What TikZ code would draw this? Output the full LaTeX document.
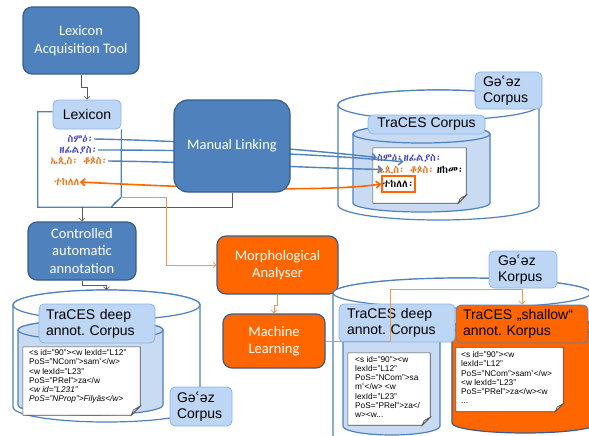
\documentclass[tikz,border=0pt]{standalone}
\usepackage{fontspec}
\setmainfont{Liberation Sans}
\newfontfamily\carl{Carlito}
\newfontfamily\dvs{DejaVu Sans}
\IfFontExistsTF{Abyssinica SIL}{\newfontfamily\eth{Abyssinica SIL}}{%
 \IfFontExistsTF{FreeSerif}{\newfontfamily\eth{FreeSerif}}{%
  \IfFontExistsTF{Noto Sans Ethiopic}{\newfontfamily\eth{Noto Sans Ethiopic}}{\newfontfamily\eth{DejaVu Sans}}}}
\usetikzlibrary{arrows.meta}
\frenchspacing
\newcommand\ayn{{\dvs ʿ}}
\newcommand\geez{Gə\ayn əz}
\definecolor{bfill}{RGB}{79,129,189}
\definecolor{bdraw}{RGB}{56,93,138}
\definecolor{lfill}{RGB}{190,214,246}
\definecolor{ldraw}{RGB}{141,180,226}
\definecolor{cfill}{RGB}{200,219,243}
\definecolor{orng}{RGB}{255,102,0}
\definecolor{lorng}{RGB}{247,150,70}
\definecolor{ethblue}{RGB}{64,64,200}
\definecolor{ethor}{RGB}{240,110,20}
\definecolor{gline}{RGB}{90,90,90}
% cylinder: style, cx, rx, ytop, ybot, ry
\newcommand\cyl[6]{%
  \path[#1] ({#2-#3},#4) -- ({#2-#3},#5) arc[start angle=180,end angle=360,x radius=#3pt,y radius=#6pt]
     -- ({#2+#3},#4) arc[start angle=0,end angle=180,x radius=#3pt,y radius=#6pt] -- cycle;
  \path[#1] (#2,#4) ellipse[x radius=#3pt,y radius=#6pt];}
% document frame around node: name, fold
\newcommand\docbox[2]{%
  \filldraw[docline] (#1.north west) -- (#1.north east) -- ([yshift=#2]#1.south east)
     -- ([xshift=-#2]#1.south east) -- (#1.south west) -- cycle;
  \filldraw[docline, fill=gray!25] ([yshift=#2]#1.south east) -- ([xshift=-#2]#1.south east)
     -- ([xshift=-0.75*#2, yshift=0.6*#2]#1.south east) -- cycle;}
\begin{document}
\begin{tikzpicture}[x=1pt,y=-1pt,
  bluebox/.style={draw=bdraw, line width=1.2pt, fill=bfill, rounded corners=9pt, text=white,
     font=\carl\fontsize{14.5}{17.5}\selectfont, align=center, inner sep=0pt},
  orbox/.style={bluebox, fill=orng},
  lab/.style={draw=ldraw, line width=0.8pt, fill=lfill, rounded corners=5pt,
     font=\fontsize{14}{16}\selectfont, inner ysep=0pt, align=left},
  cylout/.style={draw=bfill, line width=1.2pt, fill=white},
  cylin/.style={draw=bfill, line width=1.2pt, fill=cfill},
  cylor/.style={draw=bdraw, line width=1.2pt, fill=orng},
  docn/.style={inner sep=0pt, draw=none},
  docline/.style={draw=gray!60!black, line width=0.6pt, fill=white},
  xml/.style={font=\fontsize{8.3}{9.2}\selectfont, align=left, inner sep=0pt, anchor=north west},
  ethw/.style={font=\eth\fontsize{10.5}{12}\selectfont, inner sep=0pt},
  gcon/.style={draw=gline, line width=0.6pt},
  ocon/.style={draw=lorng, line width=0.7pt},
  arr/.style={-{Straight Barb[length=3pt,width=6pt]}},
  link/.style={draw=bfill, line width=1.4pt, -{Straight Barb[length=4pt,width=7pt]}}
]
\useasboundingbox (0,0) rectangle (589,436);
\begin{scope}
\clip (0,0) rectangle (589,436);

% ---------- top right corpus ----------
\cyl{cylout}{438.5}{100.5}{105}{205}{15}
\cyl{cylin}{421.5}{68.5}{134}{203}{9}
\node[lab, minimum width=67pt, minimum height=37pt, text width=51pt, inner xsep=8pt] (gz1) at (508.5,90.5) {\geez\\Corpus};
\node[lab, minimum width=117pt, minimum height=19pt, inner xsep=0pt, align=center] (tc) at (426.5,124.5) {TraCES Corpus};
\node[docn, minimum width=93pt, minimum height=55pt] (tdoc) at (419.5,175.5) {};
\docbox{tdoc}{8pt}
\node[ethw, anchor=base west, text=ethblue] (cw1) at (377,161) {ስምዕ፡};
\node[ethw, anchor=base west, text=ethblue] (cw2) at (cw1.base east) {ዘፊልያስ፡};
\node[ethw, anchor=base west, text=ethor] (cw3) at (377,173) {ኤጲስ፡ ቆጶስ፡};
\node[ethw, anchor=base west] (cw3b) at ([xshift=2pt]cw3.base east) {ዘከመ፡};
\node[ethw, draw=orng, line width=1.5pt, fill=white, minimum width=33pt, minimum height=16pt] (cw4) at (398.5,184) {ተከለለ፡};

% ---------- lexicon ----------
\node[docn, minimum width=83pt, minimum height=95pt] (lexdoc) at (79.5,159.5) {};
\node[lab, minimum width=68pt, minimum height=29pt, inner xsep=0pt, align=center] (lexlab) at (87,114.5) {Lexicon};
\draw[bfill, line width=1.2pt] (lexlab.west |- lexdoc.north) -- (lexdoc.north west) -- (lexdoc.south west)
   -- ([xshift=-10pt]lexdoc.south east) -- ([yshift=10pt]lexdoc.south east) -- (lexlab.south east);
\filldraw[fill=lfill, draw=bfill, line width=0.8pt] ([xshift=-10pt]lexdoc.south east) -- ([yshift=10pt]lexdoc.south east)
   -- ([xshift=-7pt,yshift=4pt]lexdoc.south east) -- cycle;
\node[ethw, anchor=east, text=ethblue] (lw1) at (94,139) {ስምዕ፡};
\node[ethw, anchor=east, text=ethblue] (lw2) at (98,150) {ዘፊልያስ፡};
\node[ethw, anchor=east, text=ethor] (lw3) at (108,161) {ኤጲስ፡ ቆጶስ፡};
\node[ethw, anchor=west, text=ethor] (lw4) at (54,182) {ተከለለ};

% ---------- links ----------
\draw[link] (lw1.east) .. controls (200,141) and (300,149) .. (cw1.west);
\draw[link] (lw2.east) .. controls (200,150) and (310,153) .. (cw2.south west);
\draw[link] (lw3.east) .. controls (200,162) and (310,168) .. ([xshift=6pt]cw3.west);
\draw[draw=orng, line width=1.6pt, {Straight Barb[length=4pt,width=7pt]}-{Straight Barb[length=4pt,width=7pt]}]
   (lw4.east) .. controls (180,187) and (320,193) .. (cw4.west);

% ---------- boxes ----------
\node[bluebox, minimum width=116pt, minimum height=67pt] (lat) at (81,40.5) {Lexicon\\Acquisition Tool};
\node[bluebox, rounded corners=14pt, minimum width=116pt, minimum height=92pt] (ml) at (232,146) {Manual Linking};
\node[bluebox, minimum width=108pt, minimum height=58pt] (caa) at (82,251) {Controlled\\automatic\\annotation};
\node[orbox, minimum width=121pt, minimum height=58pt] (ma) at (277.5,265) {Morphological\\Analyser};
\node[orbox, minimum width=102pt, minimum height=54pt] (mlb) at (274,341) {Machine\\Learning};

% ---------- bottom left corpus ----------
\cyl{cylout}{106.5}{93.5}{305}{407}{15}
\cyl{cylin}{90.5}{72.5}{330}{405}{10}
\coordinate (bltop) at (106.5,290);
\node[lab, minimum width=116pt, minimum height=39pt, text width=102pt, inner xsep=7pt] (bldeep) at (97,323.5) {TraCES deep\\annot. Corpus};
\node[docn, minimum width=117pt, minimum height=68pt] (bldoc) at (81.5,381) {};
\docbox{bldoc}{9pt}
\node[xml] (blx) at (29,349.5) {<s id="90"><w lexId="L12"\\PoS="NCom">sam\ayn</w>\\<w lexId="L23"\\PoS="PRel">za</w\\\textit{<w id="L231"}\\\textit{PoS="NProp">Filyās</w>}};
\node[lab, minimum width=62pt, minimum height=39pt, text width=48pt, inner xsep=7pt] (gz2) at (201,406.5) {\geez\\Corpus};

% ---------- bottom right corpus ----------
\cyl{cylout}{462}{129}{293}{470}{15}
\cyl{cylin}{391.5}{48.5}{330}{426}{9}
\cyl{cylor}{525}{73}{327}{423}{10}
\node[lab, minimum width=68pt, minimum height=37pt, text width=50pt, inner xsep=9pt] (gz3) at (523,269.5) {\geez\\Korpus};
\node[lab, minimum width=116pt, minimum height=38pt, text width=100pt, inner xsep=8pt] (brdeep) at (397,323) {TraCES deep\\annot. Corpus};
\node[lab, fill=orng, draw=bfill, minimum width=132pt, minimum height=38pt, text width=118pt, inner xsep=7pt] (shal) at (522,324) {TraCES „shallow“\\annot. Korpus};
\node[docn, minimum width=82pt, minimum height=72pt] (brdoc1) at (389,389) {};
\docbox{brdoc1}{8pt}
\node[xml] (brx1) at (355,356) {<s id="90"><w\\lexId="L12"\\PoS="NCom">sa\\m\ayn</w> <w\\lexId="L23"\\PoS="PRel">za</\\w><w...};
\node[docn, minimum width=107pt, minimum height=64pt] (brdoc2) at (509.5,379.5) {};
\docbox{brdoc2}{8pt}
\node[xml] (brx2) at (461,351.5) {<s id="90"><w\\lexId="L12"\\PoS="NCom">sam\ayn</w>\\<w lexId="L23"\\PoS="PRel">za</w><w\\...};

% ---------- connectors ----------
\draw[gcon, arr] (lat.south) -- ++(0,13) -| (lexlab.north);
\draw[gcon, arr] (caa.north |- lexdoc.south) -- (caa.north);
\draw[gcon] (ml.south) |- ([xshift=-10pt]lexdoc.south east);
\draw[gcon, arr] (caa.south) -- ++(0,5) -| (bltop);
\draw[ocon, arr] ([yshift=10pt]lexdoc.south east) -- ++(45,0) |- (ma.west);
\draw[ocon, arr] (ma.south) -- ++(0,11) -| (mlb.north);
\draw[ocon, arr] (mlb.east) -- ++(65,0) coordinate (t1) -- (t1 |- 0,289) -| (shal.north);
\end{scope}
\end{tikzpicture}
\end{document}
